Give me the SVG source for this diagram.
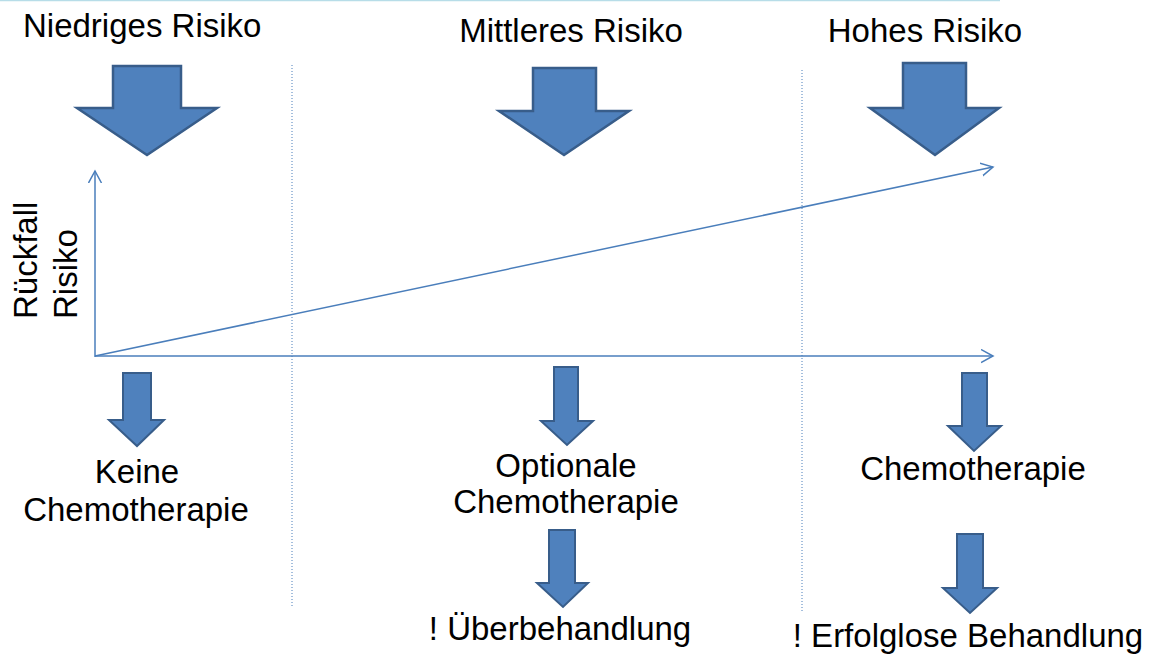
<svg xmlns="http://www.w3.org/2000/svg" width="1151" height="657" viewBox="0 0 1151 657">
<defs>
<style>
.t{font-family:"Liberation Sans",Arial,sans-serif;font-size:33px;fill:#000}
.big{fill:#4F81BD;stroke:#385D8A;stroke-width:2.5;stroke-linejoin:miter}
.sm{fill:#4F81BD;stroke:#385D8A;stroke-width:2;stroke-linejoin:miter}
.ax{stroke:#4A7EBB;stroke-width:1.5;fill:none}
.dot{stroke:#4A7EBB;stroke-width:1;stroke-dasharray:1 2;fill:none}
</style>
<marker id="open" markerUnits="userSpaceOnUse" markerWidth="16" markerHeight="16" refX="12" refY="7" orient="auto">
<path d="M0,0.5 L12,7 L0,13.5" fill="none" stroke="#4A7EBB" stroke-width="1.5"/>
</marker>
</defs>
<rect width="1151" height="657" fill="#fff"/>
<line x1="0" y1="0.5" x2="1000" y2="0.5" stroke="#B7DDE8" stroke-width="1.5"/>

<g id="dividers">
<line class="dot" x1="292" y1="65" x2="292" y2="607"/>
<line class="dot" x1="802" y1="70" x2="802" y2="612"/>
</g>

<g id="connectors">
<line class="ax" x1="95" y1="357" x2="95" y2="171" marker-end="url(#open)"/>
<line class="ax" x1="95" y1="356" x2="993" y2="356" marker-end="url(#open)"/>
<line class="ax" x1="95" y1="356" x2="993" y2="167" marker-end="url(#open)"/>
</g>

<g id="axis-label">
<text class="t" transform="translate(37,319) rotate(-90)">Rückfall</text>
<text class="t" transform="translate(77,319) rotate(-90)">Risiko</text>
</g>

<g id="low">
<text class="t" x="23" y="37">Niedriges Risiko</text>
<polygon class="big" points="113,66 181,66 181,108 217,108 147,155 77,108 113,108"/>
<polygon class="sm" points="123,373 151,373 151,420 164,420 137,446 109,420 123,420"/>
<text class="t" x="137" y="483" text-anchor="middle">Keine</text>
<text class="t" x="136" y="521" text-anchor="middle">Chemotherapie</text>
</g>

<g id="mid">
<text class="t" x="571" y="42" text-anchor="middle">Mittleres Risiko</text>
<polygon class="big" points="533,68 596,68 596,111 629,111 564,155 499,111 533,111"/>
<polygon class="sm" points="554,367 578,367 578,421 593,421 567,445 541,421 554,421"/>
<text class="t" x="566" y="477" text-anchor="middle">Optionale</text>
<text class="t" x="566" y="513" text-anchor="middle">Chemotherapie</text>
<polygon class="sm" points="549,530 575,530 575,583 588,583 563,607 537,583 549,583"/>
<text class="t" x="560" y="640" text-anchor="middle">! Überbehandlung</text>
</g>

<g id="high">
<text class="t" x="925" y="42" text-anchor="middle">Hohes Risiko</text>
<polygon class="big" points="903,63 966,63 966,108 999,108 935,155 870,108 903,108"/>
<polygon class="sm" points="962,373 987,373 987,426 1001,426 974,451 948,426 962,426"/>
<text class="t" x="973" y="480" text-anchor="middle">Chemotherapie</text>
<polygon class="sm" points="957,534 983,534 983,588 997,588 970,613 943,588 957,588"/>
<text class="t" x="968" y="647" text-anchor="middle">! Erfolglose Behandlung</text>
</g>
</svg>
